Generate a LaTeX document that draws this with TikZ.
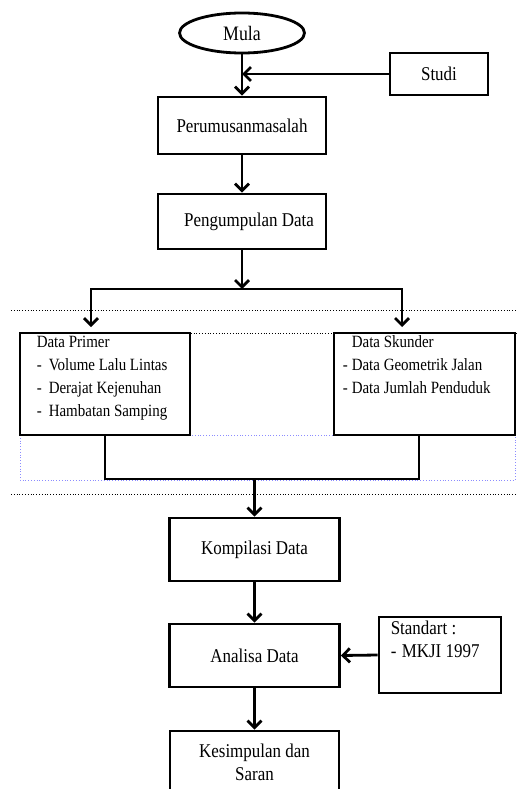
\documentclass[tikz,border=0pt]{standalone}
\usepackage{fontspec}
\setmainfont{Liberation Serif}[FakeStretch=0.87]
\usetikzlibrary{shapes.geometric,arrows.meta,positioning}

\begin{document}
\begin{tikzpicture}[
x=1pt, y=-1pt,
every node/.style={font=\fontsize{19.5}{23}\selectfont},
box/.style={
    draw,
    line width=2.8pt,
    minimum width=168pt,
    minimum height=57pt,
    inner sep=0pt
    },
terminal/.style={
    draw,
    ellipse,
    line width=2.8pt,
    minimum width=125pt,
    minimum height=40pt,
    inner sep=0pt
    },
listtext/.style={anchor=north west, align=left, inner sep=0pt},
small/.style={font=\fontsize{17.2}{23}\selectfont},
conn/.style={line width=2.8pt},
arr/.style={conn, -{Straight Barb[length=7pt,width=14pt]}},
guide/.style={dotted, line width=0.8pt}
]

\useasboundingbox (0,0) rectangle (517,789);

\draw[guide] (11,310) -- (517,310);
\draw[guide] (20,333) -- (517,333);
\draw[guide] (11,494) -- (517,494);
\draw[guide, draw=blue!45] (20,435) rectangle (515,480);

\node[terminal, font=\fontsize{20.5}{23}\selectfont] (mula) at (242,33) {Mula};
\node[box, minimum width=98pt, minimum height=42pt] (studi) at (439,74) {Studi};
\node[box] (rumus) at (242,125.5) {Perumusanmasalah};
\node[box, minimum height=55pt] (kumpul) at (242,221.5) {\hspace*{14pt}Pengumpulan Data};

\node[box, minimum width=170pt, minimum height=102pt] (primer) at (105,384) {};
\node[listtext, small] (primertxt) at ([xshift=18pt,yshift=-4pt]primer.north west)
    {Data Primer\\
     \makebox[12pt][l]{-}Volume Lalu Lintas\\
     \makebox[12pt][l]{-}Derajat Kejenuhan\\
     \makebox[12pt][l]{-}Hambatan Samping};
\node[box, minimum width=181pt, minimum height=102pt] (skunder) at (424.5,384) {};
\node[listtext, small] (skundertxt) at ([xshift=10pt,yshift=-4pt]skunder.north west)
    {\hspace*{9pt}Data Skunder\\
     \makebox[9pt][l]{-}Data Geometrik Jalan\\
     \makebox[9pt][l]{-}Data Jumlah Penduduk};

\node[box, minimum width=170pt, minimum height=63pt] (kompilasi) at (254.5,549.5) {Kompilasi Data};
\node[box, minimum width=170pt, minimum height=63pt] (analisa) at (254.5,655.5) {Analisa Data};
\node[box, minimum width=122pt, minimum height=76pt] (standart) at (440,655) {};
\node[listtext] (standarttxt) at ([xshift=13pt,yshift=-5pt]standart.north west)
    {Standart :\\
     \makebox[11pt][l]{-}MKJI 1997};
\node[box, minimum width=169pt, minimum height=63pt, align=center] (simpul) at (254.5,762.5) {Kesimpulan dan\\Saran};

\coordinate (split) at (242,289);
\coordinate (toprimer) at (91,327);
\coordinate (toskunder) at (402,327);
\coordinate (merge) at (254.5,479);

\draw[arr] (mula.south) -- (rumus.north);
\draw[arr] (studi.west) -- (mula.south |- studi.west);
\draw[arr] (rumus.south) -- (kumpul.north);
\draw[arr] (kumpul.south) -- (split);
\draw[arr] (split) -| (toprimer);
\draw[arr] (split) -| (toskunder);
\draw[conn] (primer.south) |- (merge) -| ([xshift=-5.5pt]skunder.south);
\draw[arr] (merge) -- (kompilasi.north);
\draw[arr] (kompilasi.south) -- (analisa.north);
\draw[arr] (standart.west) -- (analisa.east);
\draw[arr] (analisa.south) -- (simpul.north);

\end{tikzpicture}
\end{document}
